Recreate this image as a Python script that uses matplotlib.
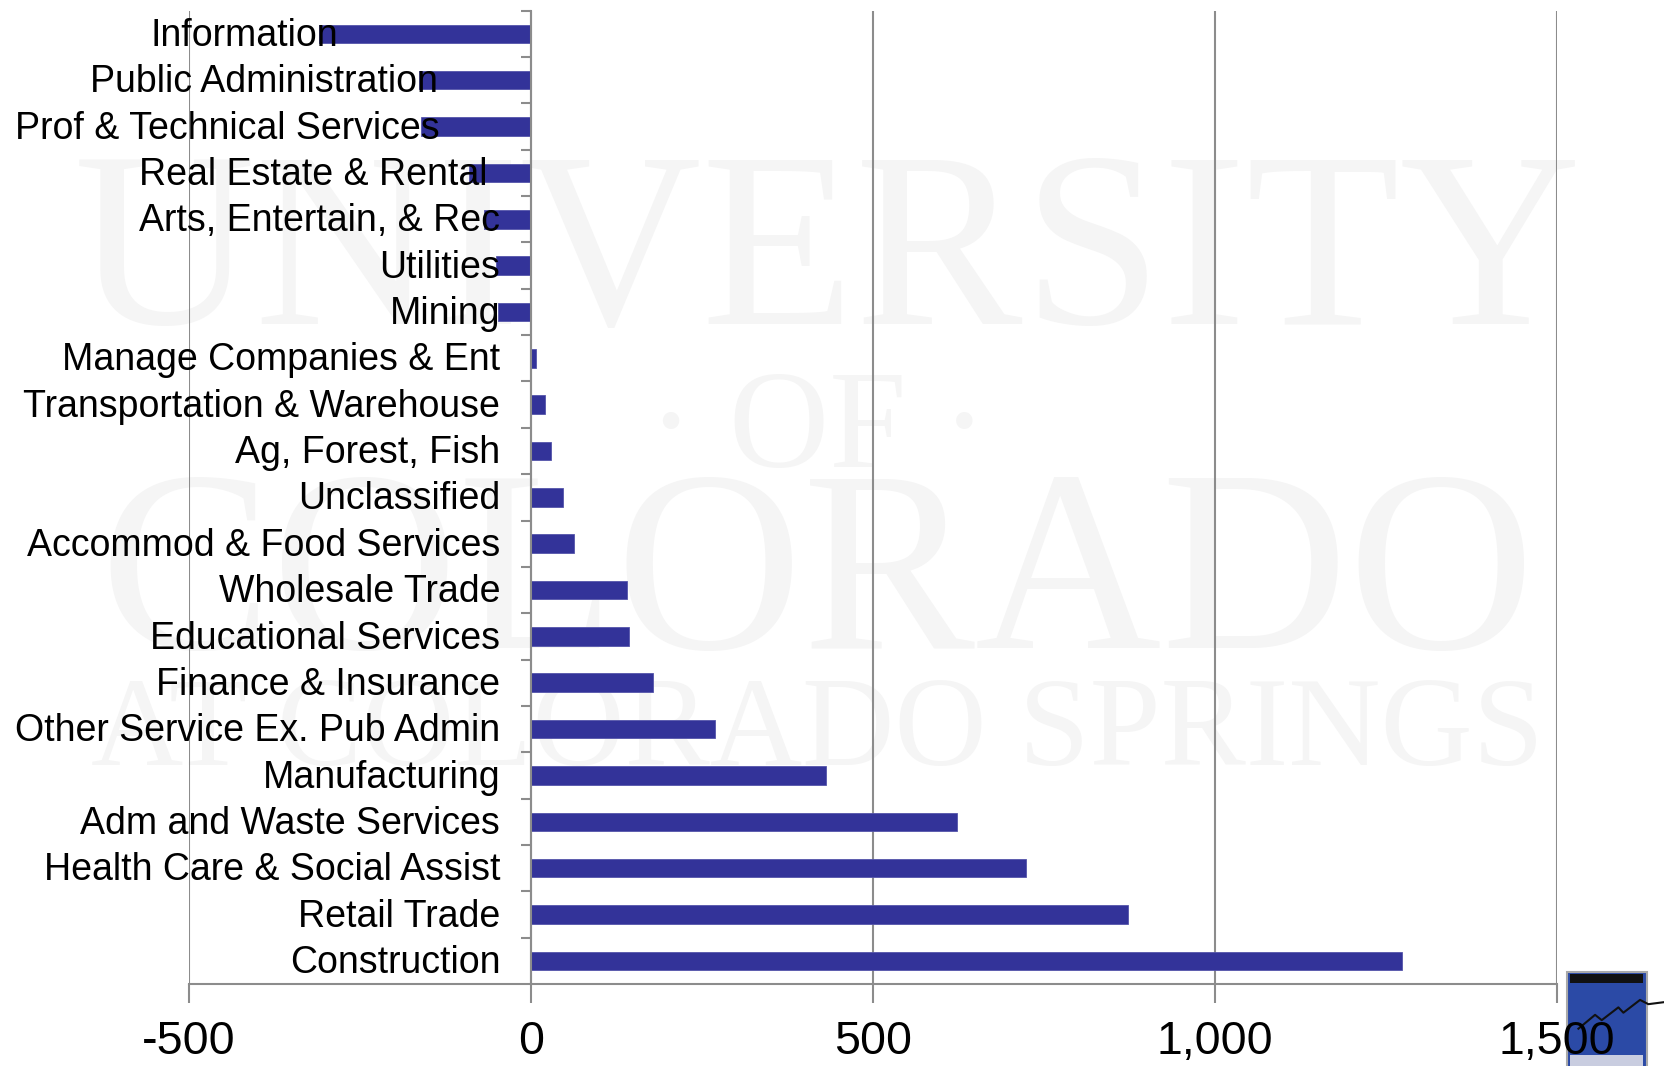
import matplotlib
matplotlib.use("Agg")
import matplotlib.pyplot as plt
from matplotlib.patches import Rectangle
from matplotlib.ticker import FixedLocator, FuncFormatter, NullFormatter

# industries, bottom to top as drawn
industries = ["Construction", "Retail Trade", "Health Care & Social Assist",
              "Adm and Waste Services", "Manufacturing", "Other Service Ex. Pub Admin",
              "Finance & Insurance", "Educational Services", "Wholesale Trade",
              "Accommod & Food Services", "Unclassified", "Ag, Forest, Fish",
              "Transportation & Warehouse", "Manage Companies & Ent", "Mining",
              "Utilities", "Arts, Entertain, & Rec", "Real Estate & Rental",
              "Prof & Technical Services", "Public Administration", "Information"]
change = [1273, 873, 724, 623, 432, 269, 179, 143, 140, 63, 47, 30, 20, 7,
          -48, -51, -69, -91, -161, -164, -310]
xticks = [-500, 0, 500, 1000, 1500]

BAR = "#333399"
GRID = "#8c8c8c"
FONT = ["Liberation Sans", "DejaVu Sans"]
plt.rcParams["font.family"] = FONT

fig = plt.figure(figsize=(16.65, 10.66), dpi=100)
ax = fig.add_axes([0.1135, 0.0769, 0.8216, 0.9131])
ax.patch.set_alpha(0)

# faint university watermark behind the plot
wm = dict(family=["Liberation Serif", "DejaVu Serif"], color="#f5f5f5",
          ha="center", va="baseline", transform=fig.transFigure, zorder=-5)
fig.text(0.497, 0.696, "UNIVERSITY", fontsize=181, **wm)
fig.text(0.491, 0.562, "\u00b7 OF \u00b7", fontsize=100, **wm)
fig.text(0.491, 0.392, "COLORADO", fontsize=186, **wm)
fig.text(0.491, 0.282, "AT COLORADO SPRINGS", fontsize=92, **wm)

# small logo in bottom-right corner (under the tick labels)
fig.patches.append(Rectangle((0.941, -0.01), 0.048, 0.098, transform=fig.transFigure,
                             facecolor="#2b4aa6", edgecolor="#aaaaaa", linewidth=1.5, zorder=-2))
fig.patches.append(Rectangle((0.943, 0.078), 0.044, 0.008, transform=fig.transFigure,
                             facecolor="#111111", edgecolor="none", zorder=-1))
fig.patches.append(Rectangle((0.943, -0.01), 0.044, 0.02, transform=fig.transFigure,
                             facecolor="#c9cde0", edgecolor="none", zorder=-1))
fig.lines.append(plt.Line2D([0.948, 0.958, 0.962, 0.972, 0.975, 0.985, 0.99, 1.0],
                            [0.035, 0.048, 0.043, 0.055, 0.05, 0.062, 0.058, 0.06],
                            transform=fig.transFigure, color="#111111", linewidth=1.5, zorder=-1))

ypos = list(range(len(industries)))
ax.barh(ypos, change, height=0.4, color=BAR, edgecolor="#5555aa", linewidth=0.6, zorder=3)

ax.set_xlim(-500, 1500)
ax.set_ylim(-0.5, len(industries) - 0.5)
ax.set_xticks(xticks)
ax.xaxis.set_major_formatter(FuncFormatter(lambda v, p: f"{v:,.0f}"))
ax.xaxis.grid(True, color=GRID, linewidth=1.5)
ax.tick_params(axis="x", length=14, width=1.5, color=GRID, pad=12, labelsize=33.5)

# category axis sits on zero
ax.spines["left"].set_position(("data", 0))
ax.spines["left"].set_color(GRID)
ax.spines["left"].set_linewidth(1.5)
ax.spines["left"].set_zorder(4)
ax.spines["bottom"].set_color(GRID)
ax.spines["bottom"].set_linewidth(1.5)
ax.spines["top"].set_visible(False)
ax.spines["right"].set_visible(False)
ax.set_yticks(ypos)
ax.yaxis.set_major_formatter(NullFormatter())
ax.yaxis.set_minor_locator(FixedLocator([i + 0.5 for i in ypos]))
ax.tick_params(axis="y", which="major", length=0)
ax.tick_params(axis="y", which="minor", length=7, width=1.5, color=GRID)
ax.xaxis.set_zorder(1)

# category labels: next to the axis, but slid left with the negative bars
for y, name, v in zip(ypos, industries, change):
    ax.text(min(v + 28, -45), y + 0.04, name, ha="right", va="center_baseline",
            fontsize=27, zorder=6)

fig.savefig("out.png", dpi=100)
